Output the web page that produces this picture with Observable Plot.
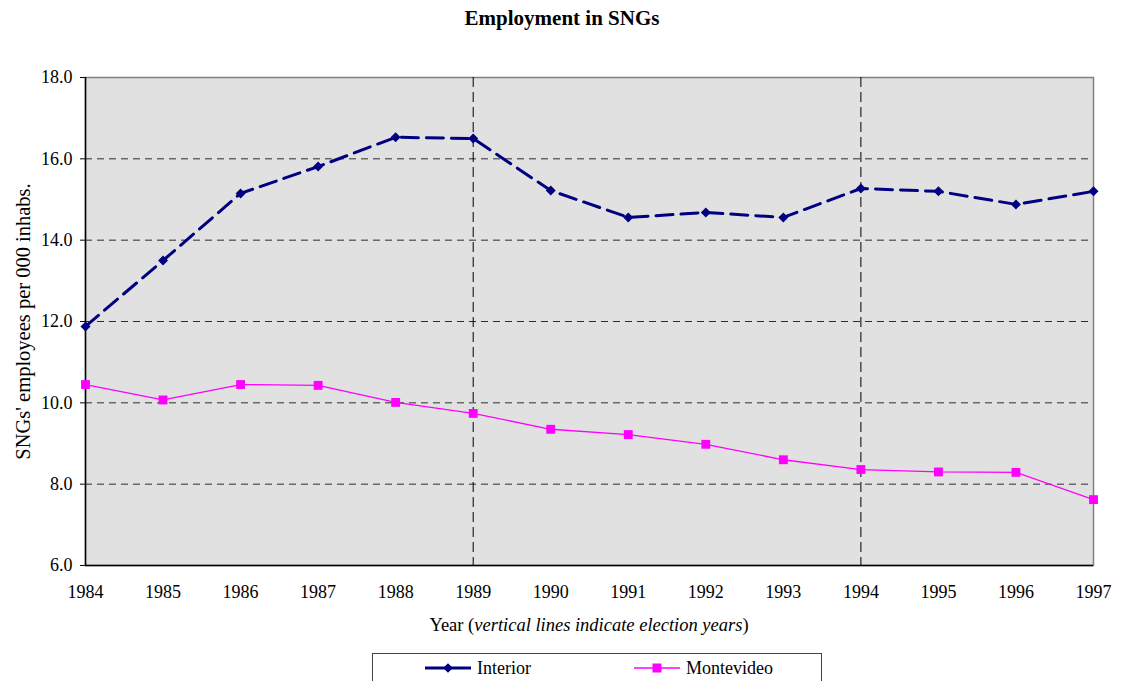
<!DOCTYPE html>
<html>
<head>
<meta charset="utf-8">
<script src="https://cdn.jsdelivr.net/npm/d3@7"></script>
<script src="https://cdn.jsdelivr.net/npm/@observablehq/plot@0.6"></script>
<style>
  html, body { margin: 0; padding: 0; background: #fff; }
  body { width: 1124px; height: 681px; overflow: hidden; font-family: "Liberation Serif", "Times New Roman", serif; color: #000; }
  #title { height: 36px; line-height: 36px; text-align: center; font-weight: bold; font-size: 21px; }
  #chart svg { display: block; }
  #chart svg text { font-size: 18px !important; }
  #chart svg g[aria-label="y-axis label"] text { font-size: 20.5px !important; }
  #xlabel { height: 40px; line-height: 40px; text-align: center; font-size: 18.5px; padding-left: 54px; }
  #legend { position: absolute; left: 372px; top: 653px; width: 448px; height: 40px; border: 1px solid #444; font-size: 18px; }
  .item { position: absolute; top: 0; height: 28px; display: flex; align-items: center; }
  .item svg { display: block; margin-right: 6px; }
</style>
</head>
<body>
<div id="title">Employment in SNGs</div>
<div id="chart"></div>
<div id="xlabel">Year (<i>vertical lines indicate election years</i>)</div>
<div id="legend"></div>
<script>
const years = [1984, 1985, 1986, 1987, 1988, 1989, 1990, 1991, 1992, 1993, 1994, 1995, 1996, 1997];
const interior = [11.88, 13.50, 15.15, 15.81, 16.53, 16.50, 15.22, 14.56, 14.68, 14.56, 15.27, 15.20, 14.88, 15.20];
const montevideo = [10.45, 10.07, 10.45, 10.43, 10.01, 9.74, 9.35, 9.22, 8.98, 8.60, 8.36, 8.30, 8.29, 7.62];
const seriesNames = ["Interior", "Montevideo"];
const yTicks = [6, 8, 10, 12, 14, 16, 18];
const gridValues = [8, 10, 12, 14, 16];
const electionYears = [1989, 1994];

const colors = {Interior: "#000080", Montevideo: "#ff00ff"};

const rows = [];
years.forEach((y, i) => {
  rows.push({year: y, value: interior[i], series: "Interior"});
  rows.push({year: y, value: montevideo[i], series: "Montevideo"});
});
const intRows = rows.filter(d => d.series === "Interior");
const monRows = rows.filter(d => d.series === "Montevideo");

const chart = Plot.plot({
  width: 1124,
  height: 569,
  marginTop: 41,
  marginBottom: 40,
  marginLeft: 85,
  marginRight: 31,
  style: {fontFamily: "'Liberation Serif', 'Times New Roman', serif", fontSize: "18px", color: "#000", background: "transparent"},
  x: {domain: [1984, 1997], ticks: years, tickFormat: d => String(d), tickSize: 0, tickPadding: 20, label: null},
  y: {domain: [6, 18], ticks: yTicks, tickFormat: d => d.toFixed(1), tickSize: 5, tickPadding: 8,
      label: "SNGs' employees per 000 inhabs.", labelAnchor: "center", labelArrow: "none", labelOffset: 70},
  marks: [
    Plot.frame({fill: "#e1e1e1", stroke: "#808080", strokeWidth: 1.5}),
    Plot.ruleY(gridValues, {stroke: "#000", strokeWidth: 1, strokeDasharray: "7,5", strokeOpacity: 0.8}),
    Plot.ruleX(electionYears, {stroke: "#000", strokeWidth: 1, strokeDasharray: "10,5"}),
    Plot.ruleX([1984], {stroke: "#000", strokeWidth: 1.5}),
    Plot.ruleY([6], {stroke: "#000", strokeWidth: 1.5}),
    Plot.line(intRows, {x: "year", y: "value", stroke: colors.Interior, strokeWidth: 3, strokeDasharray: "17,8"}),
    Plot.line(monRows, {x: "year", y: "value", stroke: colors.Montevideo, strokeWidth: 1.3}),
    Plot.dot(intRows, {x: "year", y: "value", symbol: "diamond2", r: 4.5, fill: colors.Interior, stroke: "none"}),
    Plot.dot(monRows, {x: "year", y: "value", symbol: "square", r: 5, fill: colors.Montevideo, stroke: "none"})
  ]
});
document.getElementById("chart").appendChild(chart);

// Legend
const legend = document.getElementById("legend");
const positions = {Interior: 52, Montevideo: 261};
seriesNames.forEach(name => {
  const item = document.createElement("div");
  item.className = "item";
  item.style.left = positions[name] + "px";
  const s = d3.create("svg").attr("width", 46).attr("height", 14);
  if (name === "Interior") {
    s.append("line").attr("x1", 0).attr("x2", 46).attr("y1", 7).attr("y2", 7)
      .attr("stroke", colors.Interior).attr("stroke-width", 3);
    s.append("path").attr("d", d3.symbol(d3.symbolDiamond2, 60)()).attr("transform", "translate(23,7)").attr("fill", colors.Interior);
  } else {
    s.append("line").attr("x1", 0).attr("x2", 46).attr("y1", 7).attr("y2", 7)
      .attr("stroke", colors.Montevideo).attr("stroke-width", 1.3);
    s.append("rect").attr("x", 18.5).attr("y", 2.5).attr("width", 9).attr("height", 9).attr("fill", colors.Montevideo);
  }
  item.appendChild(s.node());
  const t = document.createElement("span");
  t.textContent = name;
  item.appendChild(t);
  legend.appendChild(item);
});
</script>
</body>
</html>
